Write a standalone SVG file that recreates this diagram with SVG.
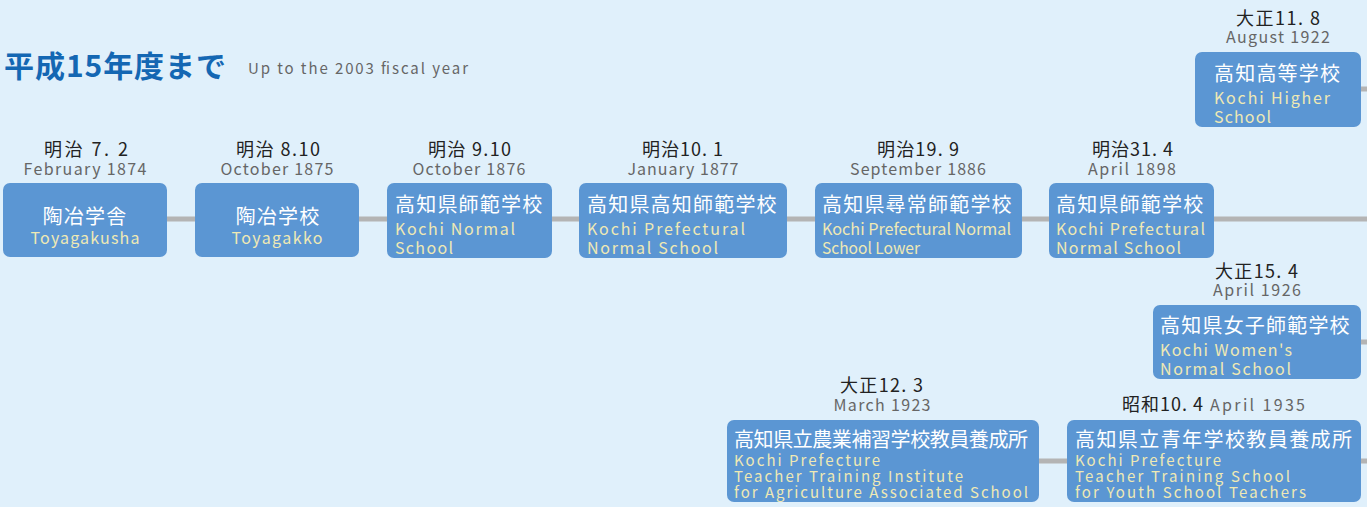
<svg xmlns="http://www.w3.org/2000/svg" width="1367" height="507" viewBox="0 0 1367 507">
<style>
.bg{fill:#e0f0fb}
.box{fill:#5b96d3}
.ln{stroke:#b4b4b4;stroke-width:5;fill:none}
text{font-family:"Noto Sans CJK JP","Noto Sans",sans-serif}
.jp{fill:#ffffff;font-size:20px;letter-spacing:1.2px}
.en{fill:#efe9b4;font-size:16px}
.en2{fill:#efe9b4;font-size:15px}
.dj{fill:#222222;font-size:18px}
.de{fill:#666666;font-size:16px}
.c{text-anchor:middle}
</style>
<rect class="bg" x="0" y="0" width="1367" height="507"/>
<text x="4" y="77" textLength="222" style="fill:#1467b3;font-size:30px;font-weight:bold">平成15年度まで</text>
<text x="248" y="74" textLength="220" style="fill:#666;font-size:15px">Up to the 2003 fiscal year</text>
<g id="connectors">
<line class="ln" x1="160" y1="219" x2="1367" y2="219"/>
<line class="ln" x1="1355" y1="89" x2="1367" y2="89"/>
<line class="ln" x1="1355" y1="342" x2="1367" y2="342"/>
<line class="ln" x1="1030" y1="461" x2="1367" y2="461"/>
</g>
<g id="n1">
<text class="dj" x="44" y="156" textLength="84">明治 7. 2</text>
<text class="de c" x="85" y="175" textLength="123">February 1874</text>
<rect class="box" x="3" y="183" width="164" height="74" rx="7"/>
<text class="jp c" x="85" y="224">陶冶学舎</text>
<text class="en c" x="85" y="244" textLength="109">Toyagakusha</text>
</g>
<g id="n2">
<text class="dj" x="236" y="156" textLength="84">明治 8.10</text>
<text class="de c" x="277" y="175" textLength="113">October 1875</text>
<rect class="box" x="195" y="183" width="164" height="74" rx="7"/>
<text class="jp c" x="278" y="224">陶冶学校</text>
<text class="en c" x="277" y="244" textLength="91">Toyagakko</text>
</g>
<g id="n3">
<text class="dj" x="428" y="156" textLength="83">明治 9.10</text>
<text class="de c" x="469" y="175" textLength="113">October 1876</text>
<rect class="box" x="387" y="183" width="165" height="75" rx="7"/>
<text class="jp" x="395" y="212">高知県師範学校</text>
<text class="en" x="395" y="235" textLength="120">Kochi Normal</text>
<text class="en" x="395" y="254" textLength="58">School</text>
</g>
<g id="n4">
<text class="dj" x="642" y="156" textLength="81">明治10. 1</text>
<text class="de c" x="683" y="175" textLength="111">January 1877</text>
<rect class="box" x="579" y="183" width="208" height="75" rx="7"/>
<text class="jp" x="587" y="212">高知県高知師範学校</text>
<text class="en" x="587" y="235" textLength="158">Kochi Prefectural</text>
<text class="en" x="587" y="254" textLength="131">Normal School</text>
</g>
<g id="n5">
<text class="dj" x="877" y="156" textLength="82">明治19. 9</text>
<text class="de c" x="918" y="175" textLength="136">September 1886</text>
<rect class="box" x="815" y="183" width="207" height="75" rx="7"/>
<text class="jp" x="822" y="212">高知県尋常師範学校</text>
<text class="en" x="822" y="235" textLength="189" lengthAdjust="spacingAndGlyphs">Kochi Prefectural Normal</text>
<text class="en" x="822" y="254" textLength="98" lengthAdjust="spacingAndGlyphs">School Lower</text>
</g>
<g id="n6">
<text class="dj" x="1092" y="156" textLength="81">明治31. 4</text>
<text class="de c" x="1132" y="175" textLength="88">April 1898</text>
<rect class="box" x="1049" y="183" width="165" height="75" rx="7"/>
<text class="jp" x="1056" y="212">高知県師範学校</text>
<text class="en" x="1056" y="235" textLength="149">Kochi Prefectural</text>
<text class="en" x="1056" y="254" textLength="125">Normal School</text>
</g>
<g id="n7">
<text class="dj" x="1236" y="25" textLength="84">大正11. 8</text>
<text class="de c" x="1278" y="43" textLength="104">August 1922</text>
<rect class="box" x="1195" y="52" width="166" height="75" rx="7"/>
<text class="jp" x="1214" y="81">高知高等学校</text>
<text class="en" x="1214" y="104" textLength="116">Kochi Higher</text>
<text class="en" x="1214" y="123" textLength="57">School</text>
</g>
<g id="n8">
<text class="dj" x="1215" y="278" textLength="83">大正15. 4</text>
<text class="de c" x="1257" y="296" textLength="88">April 1926</text>
<rect class="box" x="1153" y="305" width="208" height="74" rx="7"/>
<text class="jp" x="1160" y="333">高知県女子師範学校</text>
<text class="en" x="1160" y="356" textLength="132">Kochi Women's</text>
<text class="en" x="1160" y="375" textLength="131">Normal School</text>
</g>
<g id="n9">
<text class="dj" x="840" y="392" textLength="83">大正12. 3</text>
<text class="de c" x="882" y="411" textLength="97">March 1923</text>
<rect class="box" x="727" y="420" width="312" height="82" rx="7"/>
<text class="jp" x="734" y="447" textLength="294" style="letter-spacing:0">高知県立農業補習学校教員養成所</text>
<text class="en2" x="734" y="466" textLength="146">Kochi Prefecture</text>
<text class="en2" x="734" y="482" textLength="229">Teacher Training Institute</text>
<text class="en2" x="734" y="498" textLength="294">for Agriculture Associated School</text>
</g>
<g id="n10">
<text class="dj" x="1122" y="411" textLength="81">昭和10. 4</text>
<text class="de" x="1210" y="411" textLength="95">April 1935</text>
<rect class="box" x="1067" y="420" width="294" height="82" rx="7"/>
<text class="jp" x="1075" y="447" textLength="277" style="letter-spacing:0">高知県立青年学校教員養成所</text>
<text class="en2" x="1075" y="466" textLength="146">Kochi Prefecture</text>
<text class="en2" x="1075" y="482" textLength="215">Teacher Training School</text>
<text class="en2" x="1075" y="498" textLength="231">for Youth School Teachers</text>
</g>
</svg>
